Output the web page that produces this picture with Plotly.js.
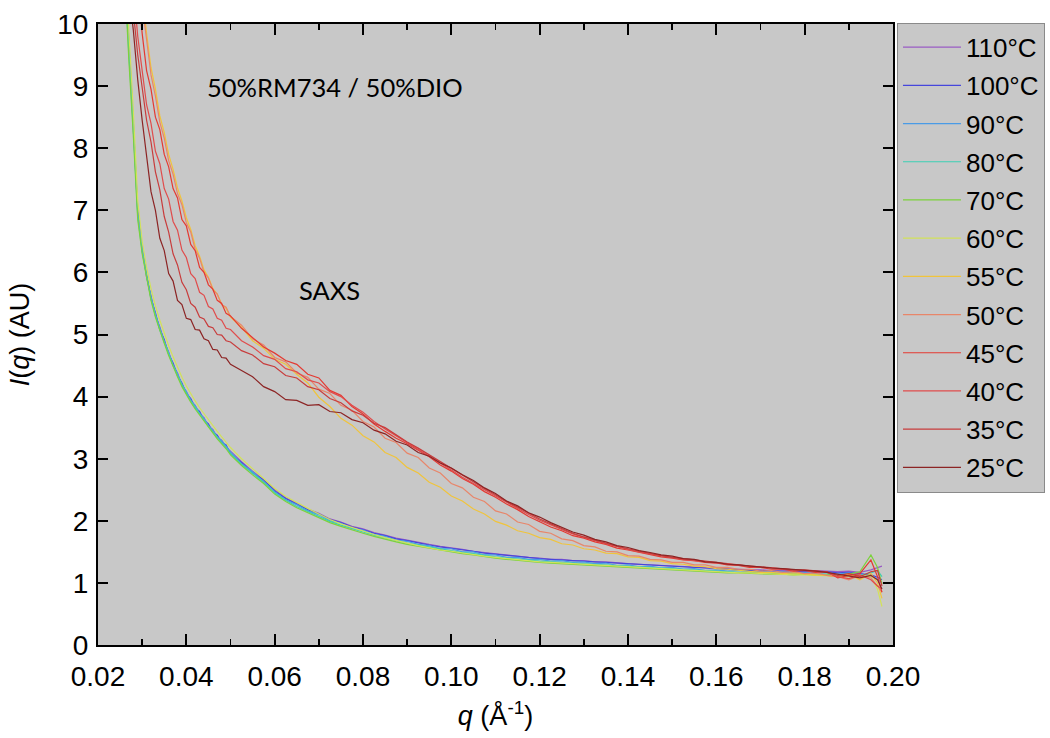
<!DOCTYPE html>
<html>
<head>
<meta charset="utf-8">
<script src="https://cdn.plot.ly/plotly-3.0.1.min.js"></script>
<style>html,body{margin:0;padding:0;background:#fff;}#chart{width:1050px;height:738px;}</style>
</head>
<body>
<div id="chart"></div>
<script>
// q values (Å^-1)
const Q = [0.025,0.026,0.027,0.028,0.029,0.030,0.031,0.032,0.033,0.034,0.035,0.036,0.037,0.038,0.039,0.040,0.041,0.042,0.043,0.044,0.045,0.046,0.047,0.048,0.049,0.050,
0.0525,0.055,0.0575,0.060,0.0625,0.065,0.0675,0.070,0.0725,0.075,0.0775,0.080,0.0825,0.085,0.0875,0.090,0.0925,0.095,0.0975,0.100,
0.1025,0.105,0.1075,0.110,0.1125,0.115,0.1175,0.120,0.1225,0.125,0.1275,0.130,0.1325,0.135,0.1375,0.140,0.1425,0.145,0.1475,0.150,
0.1525,0.155,0.1575,0.160,0.1625,0.165,0.1675,0.170,0.1725,0.175,0.1775,0.180,0.1825,0.185,0.1875,0.190,0.1925,0.195,0.1965,0.1975];

const I110 = [12.4,10.9,9.65,8.3,6.98,6.4,5.92,5.62,5.3,5.12,4.88,4.72,4.5,4.38,4.18,4.08,3.93,3.86,3.72,3.66,3.52,3.47,3.34,3.3,3.18,3.12,
2.95,2.8,2.66,2.5,2.37,2.28,2.19,2.12,2.03,1.98,1.91,1.87,1.81,1.77,1.72,1.69,1.65,1.62,1.59,1.57,
1.54,1.51,1.49,1.47,1.44,1.43,1.41,1.40,1.38,1.38,1.36,1.36,1.34,1.34,1.32,1.31,1.30,1.29,1.28,1.27,
1.26,1.25,1.24,1.23,1.22,1.22,1.21,1.21,1.20,1.21,1.20,1.19,1.20,1.19,1.18,1.19,1.17,1.21,1.24,1.27];

const I100 = [12.6,11.1,9.7,8.42,7.0,6.35,5.97,5.58,5.35,5.08,4.92,4.68,4.54,4.34,4.22,4.05,3.97,3.82,3.76,3.62,3.56,3.43,3.38,3.26,3.22,3.08,
2.94,2.77,2.66,2.48,2.36,2.27,2.18,2.11,2.02,1.97,1.9,1.86,1.8,1.76,1.71,1.68,1.64,1.61,1.58,1.56,
1.53,1.51,1.48,1.46,1.44,1.42,1.41,1.39,1.38,1.37,1.36,1.35,1.34,1.33,1.31,1.30,1.29,1.28,1.27,1.26,
1.25,1.24,1.23,1.22,1.21,1.21,1.20,1.20,1.19,1.19,1.18,1.18,1.17,1.18,1.16,1.17,1.15,1.13,1.09,1.05];

const I90 = [12.5,11.0,9.6,8.38,6.95,6.4,5.94,5.61,5.32,5.11,4.89,4.71,4.51,4.37,4.19,4.08,3.94,3.85,3.73,3.65,3.53,3.46,3.35,3.29,3.19,3.11,
2.92,2.79,2.63,2.47,2.34,2.26,2.16,2.1,2.0,1.96,1.88,1.85,1.78,1.75,1.69,1.67,1.62,1.6,1.55,1.55,
1.5,1.5,1.45,1.45,1.41,1.41,1.38,1.38,1.35,1.36,1.33,1.34,1.31,1.32,1.28,1.29,1.26,1.27,1.24,1.25,
1.22,1.23,1.2,1.21,1.19,1.2,1.18,1.19,1.17,1.18,1.16,1.17,1.15,1.17,1.14,1.16,1.13,1.12,1.06,1.0];

const I80 = [12.3,10.8,9.5,8.3,6.9,6.33,5.93,5.57,5.31,5.07,4.88,4.68,4.5,4.34,4.18,4.05,3.93,3.82,3.72,3.62,3.52,3.43,3.34,3.26,3.18,3.08,
2.91,2.76,2.62,2.45,2.33,2.23,2.15,2.07,1.99,1.93,1.87,1.82,1.77,1.72,1.68,1.64,1.61,1.57,1.54,1.52,
1.49,1.47,1.44,1.42,1.4,1.38,1.37,1.35,1.34,1.33,1.32,1.31,1.3,1.29,1.27,1.26,1.25,1.24,1.23,1.22,
1.21,1.2,1.19,1.18,1.18,1.17,1.17,1.16,1.16,1.15,1.15,1.15,1.14,1.14,1.13,1.14,1.12,1.16,1.2,1.1];

const I70 = [12.2,10.7,9.4,8.2,6.85,6.3,5.9,5.55,5.28,5.05,4.86,4.66,4.48,4.32,4.16,4.03,3.91,3.8,3.7,3.6,3.5,3.41,3.32,3.24,3.16,3.06,
2.89,2.74,2.6,2.43,2.31,2.21,2.13,2.05,1.97,1.91,1.85,1.8,1.75,1.7,1.66,1.62,1.59,1.55,1.52,1.5,
1.47,1.45,1.42,1.4,1.38,1.36,1.35,1.33,1.32,1.31,1.3,1.29,1.28,1.27,1.25,1.24,1.23,1.22,1.21,1.2,
1.19,1.18,1.17,1.17,1.16,1.16,1.15,1.15,1.14,1.14,1.13,1.14,1.12,1.13,1.12,1.14,1.18,1.45,1.25,0.98];

const I60 = [12.7,11.2,9.85,8.6,7.15,6.5,6.08,5.74,5.46,5.23,5.02,4.82,4.64,4.47,4.31,4.17,4.04,3.93,3.82,3.72,3.62,3.53,3.44,3.35,3.27,3.18,
3.0,2.84,2.69,2.52,2.39,2.29,2.2,2.11,2.02,1.95,1.89,1.83,1.78,1.73,1.68,1.64,1.6,1.56,1.53,1.51,
1.48,1.46,1.43,1.41,1.39,1.37,1.36,1.34,1.33,1.32,1.31,1.3,1.29,1.28,1.26,1.25,1.24,1.23,1.22,1.21,
1.2,1.19,1.18,1.17,1.17,1.16,1.16,1.15,1.14,1.14,1.13,1.13,1.12,1.12,1.11,1.1,1.12,1.1,0.9,0.62];

const I55 = [16.5,15.4,14.2,12.9,11.6,10.5,9.85,9.3,8.95,8.52,8.25,7.9,7.66,7.36,7.15,6.88,6.69,6.43,6.26,6.04,5.92,5.74,5.65,5.49,5.42,5.28,
5.12,4.9,4.78,4.6,4.52,4.36,4.22,3.99,3.84,3.65,3.54,3.37,3.27,3.1,3.02,2.86,2.77,2.62,2.54,2.4,
2.32,2.19,2.11,1.99,1.93,1.84,1.8,1.73,1.7,1.63,1.61,1.55,1.53,1.48,1.47,1.42,1.41,1.36,1.35,1.31,
1.3,1.27,1.26,1.23,1.22,1.2,1.19,1.17,1.17,1.15,1.16,1.14,1.13,1.12,1.1,1.14,1.05,1.15,1.0,0.75];

const I50 = [16,15,13.8,12.5,11.3,10.3,9.75,9.18,8.84,8.42,8.16,7.8,7.58,7.27,7.09,6.8,6.65,6.37,6.23,6.0,5.91,5.72,5.65,5.48,5.44,5.29,
5.15,4.93,4.83,4.63,4.56,4.38,4.31,4.12,4.05,3.86,3.78,3.6,3.51,3.33,3.26,3.09,3.02,2.85,2.77,2.6,
2.53,2.38,2.31,2.16,2.11,1.98,1.94,1.83,1.8,1.71,1.68,1.6,1.58,1.51,1.5,1.44,1.43,1.38,1.37,1.33,
1.33,1.29,1.29,1.25,1.25,1.22,1.22,1.19,1.2,1.17,1.18,1.15,1.16,1.12,1.1,1.05,1.12,1.08,0.95,0.85];

const I45 = [15,14,12.8,11.6,10.6,9.85,9.25,8.95,8.5,8.3,7.9,7.7,7.35,7.2,6.85,6.75,6.45,6.35,6.08,6.0,5.8,5.73,5.55,5.5,5.34,5.3,
5.1,4.95,4.8,4.7,4.58,4.52,4.36,4.3,4.1,4.02,3.84,3.72,3.56,3.44,3.33,3.24,3.13,3.03,2.9,2.8,
2.68,2.59,2.47,2.38,2.27,2.18,2.07,1.99,1.9,1.84,1.76,1.72,1.66,1.62,1.56,1.53,1.49,1.46,1.42,1.4,
1.37,1.36,1.33,1.32,1.29,1.28,1.25,1.25,1.22,1.22,1.19,1.2,1.17,1.18,1.08,1.12,1.15,1.37,1.1,0.85];

const I40 = [13.5,12.5,11.5,10.6,9.8,9.25,8.7,8.4,7.95,7.75,7.35,7.18,6.82,6.68,6.36,6.24,5.98,5.9,5.68,5.63,5.45,5.41,5.26,5.23,5.1,5.08,
4.9,4.8,4.66,4.6,4.45,4.4,4.27,4.22,4.08,4.0,3.86,3.75,3.6,3.48,3.37,3.26,3.15,3.05,2.93,2.82,
2.7,2.6,2.49,2.4,2.29,2.2,2.1,2.01,1.93,1.86,1.79,1.73,1.68,1.63,1.58,1.54,1.5,1.47,1.43,1.41,
1.38,1.36,1.34,1.32,1.3,1.28,1.27,1.25,1.24,1.22,1.21,1.2,1.19,1.17,1.1,1.07,1.13,1.05,0.95,0.9];

const I35 = [12.8,11.9,11.0,10.2,9.5,8.98,8.45,8.1,7.62,7.33,6.9,6.65,6.3,6.12,5.84,5.72,5.5,5.44,5.28,5.25,5.13,5.11,5.0,4.99,4.9,4.88,
4.74,4.67,4.53,4.48,4.34,4.3,4.16,4.11,3.97,3.9,3.77,3.7,3.57,3.5,3.38,3.27,3.17,3.06,2.95,2.84,
2.73,2.62,2.52,2.42,2.31,2.22,2.12,2.03,1.95,1.87,1.8,1.74,1.69,1.63,1.59,1.55,1.51,1.47,1.44,1.41,
1.39,1.37,1.34,1.33,1.3,1.29,1.27,1.26,1.24,1.23,1.21,1.21,1.19,1.18,1.12,1.15,1.1,1.18,1.2,0.95];

const I25 = [12.0,11.2,10.5,9.9,9.1,8.45,7.9,7.3,7.0,6.55,6.35,5.98,5.86,5.55,5.48,5.26,5.24,5.08,5.07,4.93,4.9,4.76,4.75,4.63,4.62,4.52,
4.42,4.32,4.16,4.08,3.95,3.94,3.86,3.87,3.76,3.74,3.63,3.58,3.46,3.4,3.28,3.22,3.1,3.04,2.93,2.85,
2.74,2.65,2.53,2.44,2.32,2.24,2.13,2.06,1.97,1.9,1.82,1.77,1.7,1.66,1.6,1.57,1.52,1.49,1.45,1.43,
1.39,1.38,1.34,1.33,1.3,1.29,1.27,1.26,1.24,1.23,1.22,1.2,1.19,1.17,1.14,1.1,1.08,1.12,1.05,0.9];

const seriesNames = ['110°C','100°C','90°C','80°C','70°C','60°C','55°C','50°C','45°C','40°C','35°C','25°C'];
const seriesData = [I110,I100,I90,I80,I70,I60,I55,I50,I45,I40,I35,I25];
const seriesColors = ['#9a5cc4','#4646dc','#4a9be6','#3cd0b4','#7cd23c','#d2e25a','#f0c43c','#e8866a','#e43a32','#e04c4c','#c83c3c','#8c2424'];

const xTicks = [0.02,0.04,0.06,0.08,0.10,0.12,0.14,0.16,0.18,0.20];
const xTickText = ['0.02','0.04','0.06','0.08','0.10','0.12','0.14','0.16','0.18','0.20'];

const FONT = '"Liberation Sans", "DejaVu Sans", sans-serif';
const NOTE_FONT = 'Lato, "Open Sans", sans-serif';

const traces = seriesNames.map((n, i) => ({
  x: Q, y: seriesData[i], name: n, type: 'scatter', mode: 'lines',
  line: {color: seriesColors[i], width: 1.2},
  legendgroup: 'g' + i
}));

const layout = {
  width: 1050, height: 738,
  margin: {l: 98, r: 157, t: 24, b: 93, autoexpand: false},
  paper_bgcolor: '#ffffff',
  plot_bgcolor: '#c8c8c8',
  showlegend: true,
  font: {family: FONT, color: '#000'},
  xaxis: {
    range: [0.02, 0.20], tickmode: 'array', tickvals: xTicks, ticktext: xTickText,
    ticks: 'inside', ticklen: 11, tickwidth: 2, tickcolor: '#000',
    minor: {ticks: 'inside', dtick: 0.01, ticklen: 6, tickwidth: 1.5, tickcolor: '#000', showgrid: false},
    showline: true, linecolor: '#000', linewidth: 2, mirror: 'ticks',
    showgrid: false, zeroline: false,
    tickfont: {size: 28, family: FONT}, ticklabelstandoff: 5,
    title: {text: '<i>q</i> (Å<sup>-1</sup>)', font: {size: 27, family: FONT}, standoff: 16}
  },
  yaxis: {
    range: [0, 10], dtick: 1, tick0: 0,
    ticks: 'inside', ticklen: 10, tickwidth: 2, tickcolor: '#000',
    showline: true, linecolor: '#000', linewidth: 2, mirror: 'ticks',
    showgrid: false, zeroline: false,
    tickfont: {size: 28, family: FONT}, ticklabelstandoff: 2,
    title: {text: '<i>I</i>(<i>q</i>) (AU)', font: {size: 27, family: FONT}, standoff: 20}
  },
  legend: {
    x: 1.005, y: 1.002, xanchor: 'left', yanchor: 'top',
    bgcolor: '#c8c8c8', bordercolor: '#8a8a8a', borderwidth: 1,
    font: {size: 26, family: FONT, color: '#000'},
    traceorder: 'grouped', tracegroupgap: 1.4, itemwidth: 58, maxheight: 720
  },
  annotations: [
    {text: '50%RM734 / 50%DIO', xref: 'paper', yref: 'paper', x: (205-98)/795, y: (645-87)/621,
     xanchor: 'left', yanchor: 'middle', showarrow: false, font: {family: NOTE_FONT, size: 25.5, color: '#000'}},
    {text: 'SAXS', xref: 'paper', yref: 'paper', x: (297-98)/795, y: (645-290)/621,
     xanchor: 'left', yanchor: 'middle', showarrow: false, font: {family: NOTE_FONT, size: 25.5, color: '#000'}}
  ]
};

Plotly.newPlot('chart', traces, layout, {displayModeBar: false, staticPlot: true});
</script>
</body>
</html>
